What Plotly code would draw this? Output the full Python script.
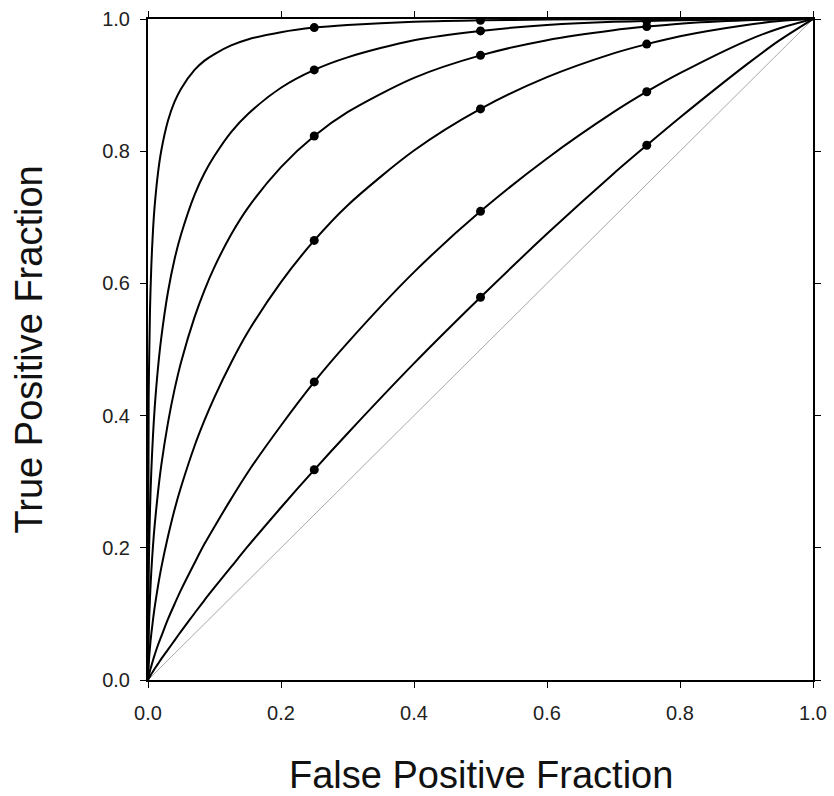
import plotly.graph_objects as go

# False positive fraction sample positions
fpf = [0, 0.001, 0.003, 0.005, 0.0075, 0.01, 0.015, 0.02, 0.03, 0.04, 0.05, 0.07,
       0.085, 0.1, 0.125, 0.15, 0.2, 0.25, 0.3, 0.4, 0.5, 0.6, 0.7, 0.75, 0.8,
       0.9, 0.95, 1.0]

# True positive fraction read for each ROC curve (top to bottom)
tpf_curve1 = [0, 0.425, 0.560, 0.627, 0.680, 0.717, 0.767, 0.801, 0.846, 0.875, 0.895, 0.923,
              0.937, 0.947, 0.960, 0.969, 0.980, 0.987, 0.991, 0.996, 0.998, 0.9992, 0.9997,
              0.9998, 0.9999, 1.0, 1.0, 1.0]
tpf_curve2 = [0, 0.161, 0.258, 0.317, 0.370, 0.411, 0.472, 0.518, 0.587, 0.637, 0.675, 0.734,
              0.767, 0.793, 0.829, 0.856, 0.896, 0.923, 0.942, 0.968, 0.982, 0.991, 0.996,
              0.997, 0.998, 0.9996, 0.9999, 1.0]
tpf_curve3 = [0, 0.068, 0.125, 0.165, 0.203, 0.234, 0.284, 0.325, 0.389, 0.440, 0.482, 0.549,
              0.590, 0.625, 0.674, 0.714, 0.776, 0.823, 0.859, 0.911, 0.945, 0.968, 0.983,
              0.9885, 0.993, 0.998, 0.9994, 1.0]
tpf_curve4 = [0, 0.023, 0.050, 0.070, 0.091, 0.110, 0.142, 0.170, 0.217, 0.258, 0.293, 0.354,
              0.393, 0.428, 0.480, 0.526, 0.602, 0.665, 0.718, 0.801, 0.864, 0.912, 0.948,
              0.962, 0.974, 0.991, 0.997, 1.0]
tpf_curve5 = [0, 0.0055, 0.014, 0.021, 0.030, 0.038, 0.053, 0.066, 0.092, 0.115, 0.137, 0.177,
              0.206, 0.232, 0.274, 0.314, 0.385, 0.451, 0.510, 0.617, 0.709, 0.789, 0.859,
              0.890, 0.918, 0.967, 0.986, 1.0]
tpf_curve6 = [0, 0.002, 0.0054, 0.009, 0.0128, 0.017, 0.0244, 0.032, 0.046, 0.060, 0.074, 0.101,
              0.121, 0.140, 0.171, 0.202, 0.261, 0.318, 0.373, 0.479, 0.579, 0.675, 0.766,
              0.809, 0.851, 0.931, 0.968, 1.0]
curves = [tpf_curve1, tpf_curve2, tpf_curve3, tpf_curve4, tpf_curve5, tpf_curve6]

# Operating points marked on each curve
marker_fpf = [0.25, 0.5, 0.75]

# Chance line
chance_x = [0, 1]
chance_y = [0, 1]

tick_vals = [0, 0.2, 0.4, 0.6, 0.8, 1.0]
tick_text = ["0.0", "0.2", "0.4", "0.6", "0.8", "1.0"]

fig = go.Figure()

fig.add_trace(go.Scatter(x=chance_x, y=chance_y, mode="lines",
                         line=dict(color="#a8a8a8", width=1), hoverinfo="skip",
                         showlegend=False))

for tpf in curves:
    fig.add_trace(go.Scatter(x=fpf, y=tpf, mode="lines",
                             line=dict(color="black", width=2, shape="spline", smoothing=0.8),
                             showlegend=False))
    mx = list(marker_fpf)
    my = [tpf[fpf.index(f)] for f in marker_fpf]
    fig.add_trace(go.Scatter(x=mx, y=my, mode="markers",
                             marker=dict(color="black", size=9),
                             showlegend=False))

axis_common = dict(
    range=[0, 1], showgrid=False, zeroline=False,
    showline=True, linecolor="black", linewidth=2, mirror="ticks",
    ticks="outside", ticklen=6, tickwidth=1, tickcolor="black",
    tickvals=tick_vals, ticktext=tick_text,
    tickfont=dict(family="Liberation Sans, Arial", size=20, color="#222"),
)

fig.update_xaxes(**axis_common, ticklabelstandoff=8)
fig.update_yaxes(**axis_common, ticklabelstandoff=6)

fig.add_annotation(text="False Positive Fraction", xref="paper", yref="paper",
                   x=0.5, y=0, yshift=-95, showarrow=False, yanchor="middle",
                   font=dict(family="Liberation Sans, Arial", size=38, color="#111"))
fig.add_annotation(text="True Positive Fraction", xref="paper", yref="paper",
                   x=0, xshift=-120, y=0.5, showarrow=False, textangle=-90,
                   xanchor="center", yanchor="middle",
                   font=dict(family="Liberation Sans, Arial", size=38, color="#111"))

fig.update_layout(
    width=834, height=796,
    margin=dict(l=148, r=21, t=19, b=116, autoexpand=False),
    plot_bgcolor="white", paper_bgcolor="white",
)

fig.write_html("out.html", config={"displayModeBar": False},
               post_script="document.body.style.margin='0';document.body.style.overflow='hidden';")
